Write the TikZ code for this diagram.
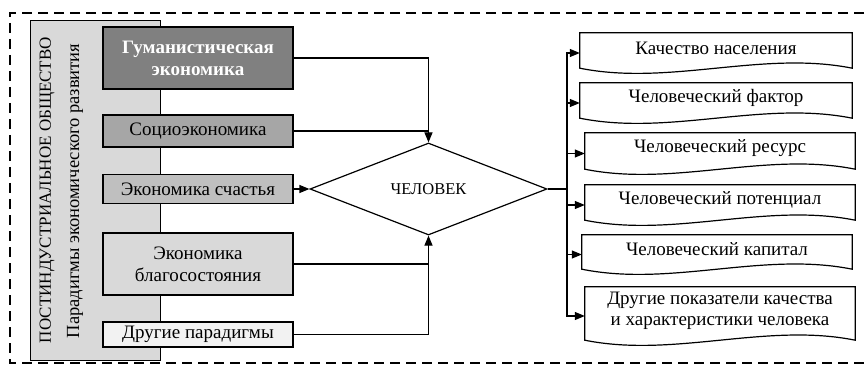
\documentclass[tikz,border=0pt]{standalone}
\usepackage{fontspec}
\setmainfont{Liberation Serif}
\usetikzlibrary{shapes.geometric,arrows.meta,calc}

\tikzset{
	paradigm/.style={draw, line width=1.1pt, minimum width=190pt, inner sep=0pt, align=center, font=\fontsize{19}{22}\selectfont},
	quality/.style={minimum width=270pt, inner sep=0pt, align=center, font=\fontsize{19}{21}\selectfont},
	link/.style={line width=1.2pt},
	tip/.style={-{Triangle[length=10pt,width=8pt]}},
}

\begin{document}
\begin{tikzpicture}[x=1pt,y=-1pt]
	\useasboundingbox (0,0) rectangle (867,366);

	%внешняя рамка
	\draw [line width=1.7pt, dash pattern=on 10pt off 6pt] (880,13) -- (10,13) -- (10,363) -- (880,363);

	%серая панель
	\node [draw, fill=black!15, line width=0.8pt, minimum width=130pt, minimum height=340pt, inner sep=0pt] (panel) at (95,190) {};
	\node [rotate=90, font=\fontsize{17}{20}\selectfont] (society) at (47,190) {ПОСТИНДУСТРИАЛЬНОЕ ОБЩЕСТВО};
	\node [rotate=90, font=\fontsize{18.5}{21}\selectfont] (paradigms) at (75,191) {Парадигмы экономического развития};

	%парадигмы
	\node [paradigm, fill=black!50, text=white, font=\fontsize{19}{22}\selectfont\bfseries, minimum height=62pt] (humanist) at (198,58) {Гуманистическая\\экономика};
	\node [paradigm, fill=black!35, minimum height=32pt] (socio) at (198,131) {Социоэкономика};
	\node [paradigm, fill=black!25, minimum height=29pt] (happiness) at (198,189) {Экономика счастья};
	\node [paradigm, fill=black!15, minimum height=62pt] (welfare) at (198,264) {Экономика\\благосостояния};
	\node [paradigm, fill=black!5, minimum height=25pt] (others) at (198,334.5) {Другие парадигмы};

	%человек
	\node [draw, diamond, aspect=2.6, minimum width=237pt, minimum height=92pt, inner sep=0pt, line width=1.2pt, font=\fontsize{16.5}{19}\selectfont] (man) at (428.5,189) {ЧЕЛОВЕК};

	\draw [link, tip] (humanist.east) -| (man.north);
	\draw [link] (socio.east) -- (socio.east -| man.north);
	\draw [link, tip] (happiness.east) -- (man.west);
	\draw [link, tip] (others.east) -| (man.south);
	\draw [link] (welfare.east) -- (welfare.east -| man.south);

	%характеристики
	\node [quality, minimum width=272pt, minimum height=30pt] (population) at (716,48) {Качество населения};
	\node [quality, minimum width=272pt, minimum height=30pt] (factor) at (716,98) {Человеческий фактор};
	\node [quality, minimum height=31pt] (resource) at (720,148.5) {Человеческий ресурс};
	\node [quality, minimum height=30pt] (potential) at (720,200) {Человеческий потенциал};
	\node [quality, minimum width=270pt, minimum height=29pt] (capital) at (717,249.5) {Человеческий капитал};
	\node [quality, minimum height=48pt] (traits) at (720,311) {Другие показатели качества\\и характеристики человека};

	\foreach \n in {population,factor,resource,potential,capital,traits}
		\draw [line width=1.2pt] (\n.north west) -- (\n.north east) -- ([yshift=-5pt]\n.south east)
			.. controls ($(\n.south west)!0.67!(\n.south east)+(0,-13)$) and ($(\n.south west)!0.33!(\n.south east)+(0,23)$) .. ([yshift=-5pt]\n.south west) -- cycle;

	\coordinate (hub) at (567,189);
	\draw [link] (man.east) -- (hub);
	\foreach \n in {population,factor,resource,potential,capital,traits}
		\draw [link, tip] (hub) |- ([yshift=-5pt]\n.west);

\end{tikzpicture}
\end{document}
